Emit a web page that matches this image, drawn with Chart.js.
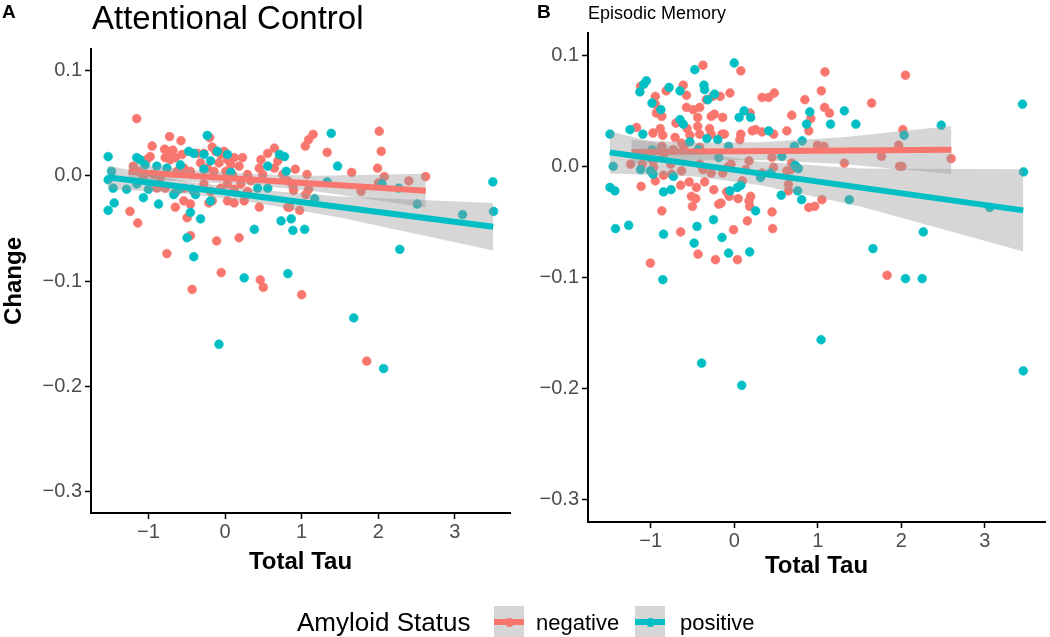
<!DOCTYPE html>
<html>
<head>
<meta charset="utf-8">
<script src="https://cdn.jsdelivr.net/npm/chart.js@4.4.1/dist/chart.umd.min.js"></script>
<style>
  html, body { margin:0; padding:0; background:#fff; }
  body { width:1050px; height:637px; position:relative; overflow:hidden; font-family:"Liberation Sans", Arial, Helvetica, sans-serif; }
  canvas { position:absolute; top:0; }
  .t { position:absolute; white-space:nowrap; line-height:1; color:#000; }
  .key { position:absolute; width:30px; height:32px; background:#D6D6D6; }
  .key .ln { position:absolute; left:0; width:30px; top:13px; height:6px; }
  .key .pt { position:absolute; left:10.5px; top:11.5px; width:9px; height:9px; border-radius:50%; }
</style>
</head>
<body>
<canvas id="cA" width="530" height="637" style="left:0px;width:530px;height:637px"></canvas>
<canvas id="cB" width="520" height="637" style="left:530px;width:520px;height:637px"></canvas>

<div class="t" style="left:2px;top:2px;font-size:19px;font-weight:bold;">A</div>
<div class="t" style="left:92px;top:1px;font-size:33px;">Attentional Control</div>
<div class="t" style="left:537px;top:2px;font-size:19px;font-weight:bold;">B</div>
<div class="t" style="left:588px;top:4px;font-size:18px;">Episodic Memory</div>

<div class="t" style="left:297px;top:609px;font-size:26px;">Amyloid Status</div>
<div class="key" style="left:494px;top:606px;"><div class="ln" style="background:#F8766D"></div><div class="pt" style="background:#F8766D"></div></div>
<div class="t" style="left:536px;top:612px;font-size:22px;">negative</div>
<div class="key" style="left:635px;top:606px;"><div class="ln" style="background:#00BFC4"></div><div class="pt" style="background:#00BFC4"></div></div>
<div class="t" style="left:680px;top:612px;font-size:22px;">positive</div>

<script>
// ---------- data ----------
const xTickValues = [-1, 0, 1, 2, 3];
const xTickLabels = ['\u22121', '0', '1', '2', '3'];
const yTickValues = [0.1, 0, -0.1, -0.2, -0.3];
const yTickLabels = ['0.1', '0.0', '\u22120.1', '\u22120.2', '\u22120.3'];
const groups = ['negative', 'positive'];

// Panel A: Attentional Control
const attnNegative = [
[-1.153,0.054],[-0.724,0.037],[-0.575,0.033],[-0.202,0.036],[-0.952,0.028],[-0.789,0.025],[-0.737,0.023],[-0.680,0.024],
[-0.978,0.018],[-1.022,0.015],[-0.781,0.017],[-0.715,0.015],[-0.649,0.017],[-0.561,0.020],[-0.364,0.021],[-0.276,0.021],
[-0.167,0.027],[-0.123,0.023],[-0.057,0.020],[-0.013,0.023],[0.031,0.015],[0.075,0.010],[0.118,0.017],[0.184,0.009],
[0.228,0.017],[-1.197,0.009],[-1.132,0.004],[-1.066,-0.001],[-0.934,0.001],[-0.846,-0.002],[-0.627,0.004],[-0.539,0.007],
[-0.452,0.004],[-0.320,0.012],[-0.232,0.007],[-0.145,0.004],[-0.079,0.012],[0.009,0.004],[0.096,0.001],[0.294,0.001],
[0.338,-0.005],[0.469,0.015],[0.447,0.007],[0.491,0.001],[0.557,0.021],[0.645,0.026],[0.689,0.014],[0.645,0.007],
[0.754,0.001],[0.820,-0.005],[-0.890,-0.012],[-0.781,-0.012],[-0.649,-0.016],[-0.539,-0.012],[-0.408,-0.015],[-0.276,-0.008],
[-0.189,-0.015],[-0.057,-0.012],[0.031,-0.008],[0.118,-0.013],[0.206,-0.008],[0.294,-0.015],[-0.539,-0.024],[-0.452,-0.027],
[-0.211,-0.026],[-0.167,-0.024],[0.031,-0.024],[0.118,-0.026],[0.250,-0.024],[-1.241,-0.034],[-0.649,-0.030],[-0.496,-0.040],
[0.447,-0.030],[0.820,-0.030],[-1.140,-0.045],[-0.452,-0.057],[-0.110,-0.062],[0.184,-0.059],[-0.759,-0.074],
[1.149,0.039],[1.091,0.034],[1.048,0.028],[1.333,0.022],[2.013,0.042],[2.039,0.023],[0.917,0.006],[1.070,0.001],
[1.653,0.003],[1.991,0.007],[2.079,-0.001],[2.399,-0.005],[2.618,-0.001],[2.004,-0.007],[1.776,-0.015],[0.886,-0.010],
[1.092,-0.013],[1.052,-0.018],[0.842,-0.030],[0.974,-0.033],[0.895,-0.014],
[-0.43,-0.108],[-0.05,-0.092],[0.46,-0.099],[0.50,-0.106],[1.00,-0.113],[1.85,-0.176]
];
const attnPositive = [
[-1.526,0.018],[-1.153,0.017],[-1.110,0.015],[-1.044,0.010],[-0.890,0.009],[-0.759,0.007],[-0.583,0.010],[-0.474,0.023],
[-0.408,0.021],[-0.276,0.020],[-0.232,0.038],[-0.101,0.023],[0.031,0.020],[-1.526,-0.004],[-1.482,0.004],[-1.461,-0.012],
[-1.285,-0.013],[-1.153,-0.008],[-1.066,-0.021],[-1.000,-0.013],[-0.868,-0.027],[-0.671,-0.018],[-0.605,-0.013],[-0.430,-0.013],
[-0.276,0.006],[-0.189,0.014],[0.075,0.003],[0.557,0.009],[0.711,0.020],[0.776,0.018],[0.798,0.004],[-1.526,-0.033],
[-1.447,-0.026],[-0.452,-0.035],[-0.320,-0.041],[-0.189,-0.024],[-0.386,-0.018],[0.382,-0.051],[0.732,-0.043],[0.864,-0.041],
[0.886,-0.052],[-0.496,-0.059],[-0.408,-0.077],[0.425,-0.012],[0.557,-0.012],
[1.386,0.040],[1.469,0.009],[1.333,-0.006],[2.048,-0.008],[2.267,-0.012],[2.509,-0.027],[3.101,-0.037],[3.496,-0.006],
[3.505,-0.034],[1.171,-0.022],[1.039,-0.051],[2.281,-0.070],
[0.25,-0.097],[0.82,-0.093],[1.68,-0.135],[-0.08,-0.160],[2.07,-0.183]
];
const attnNegFit   = [[-1.26,0.0036],[2.62,-0.0144]];
const attnPosFit   = [[-1.53,-0.0017],[3.50,-0.0485]];
const attnNegBandX = [-1.26,-0.5,0.3,1.2,2.62];
const attnNegUpper = [0.0116,0.0056,0.0014,-0.0002,0.0016];
const attnNegLower = [-0.0044,-0.0054,-0.0086,-0.0152,-0.0304];
const attnPosBandX = [-1.53,-0.5,0.3,1.5,3.50];
const attnPosUpper = [0.0093,-0.0053,-0.0127,-0.0199,-0.0260];
const attnPosLower = [-0.0127,-0.0173,-0.0247,-0.0399,-0.0710];

// Panel B: Episodic Memory
const memNegative = [
[-0.374,0.091],[0.079,0.086],[-1.121,0.072],[-0.944,0.063],[-0.815,0.068],[-0.610,0.073],[-0.571,0.064],[-0.334,0.060],
[-0.256,0.063],[-0.169,0.063],[-0.051,0.066],[0.334,0.062],[0.413,0.062],[0.480,0.066],[-0.944,0.056],[-0.932,0.048],
[-0.866,0.045],[-0.571,0.053],[-0.492,0.051],[-0.413,0.053],[-0.437,0.044],[-0.275,0.045],[-0.236,0.047],[-0.138,0.044],
[0.189,0.048],[0.689,0.046],[-1.169,0.035],[-0.972,0.030],[-0.885,0.034],[-0.854,0.028],[-0.697,0.039],[-0.563,0.034],
[-0.531,0.028],[-0.437,0.036],[-0.413,0.029],[-0.295,0.034],[-0.275,0.029],[-0.146,0.029],[-0.118,0.029],[0.067,0.024],
[0.079,0.029],[0.216,0.032],[0.256,0.033],[0.334,0.031],[0.472,0.029],[0.630,0.032],[-0.708,0.026],[-0.630,0.021],
[-0.866,0.018],[-0.728,0.015],[-0.602,0.018],[-0.413,0.017],[-0.846,0.011],[-0.972,0.005],[-0.964,-0.001],[-1.10,0.002],
[-1.24,0.002],[-0.759,0.002],[-0.630,-0.004],[-0.748,-0.007],[-0.413,0.002],[-0.374,-0.003],[-0.275,-0.006],[-0.138,-0.006],
[-0.079,-0.001],[-0.039,0.002],[0.177,0.005],[0.138,-0.003],[0.334,-0.006],[0.452,0.008],[0.472,-0.001],[-0.944,-0.013],
[-1.114,-0.018],[-0.846,-0.008],[-0.641,-0.017],[-0.539,-0.014],[-0.453,-0.019],[-0.354,-0.014],[-0.244,-0.021],[-0.090,-0.023],
[-0.059,-0.027],[0.098,-0.013],[0.197,-0.027],[-0.512,-0.027],[-0.460,-0.029],[-0.185,-0.034],[-0.157,-0.033],[0.047,-0.029],
[0.177,-0.031],[0.185,-0.036],[-0.866,-0.040],[0.453,-0.041],[0.649,-0.022],[0.630,-0.004],
[-0.500,-0.036],[0.157,-0.049],[0.460,-0.056],[-0.641,-0.059],[-0.008,-0.057],[-1.003,-0.087],[-0.433,-0.079],[-0.224,-0.084],
[0.039,-0.084],
[1.086,0.085],[2.050,0.082],[1.043,0.068],[0.846,0.060],[1.645,0.057],[1.082,0.053],[1.141,0.048],[0.917,0.043],
[0.893,0.032],[2.019,0.033],[0.996,0.019],[1.074,0.018],[1.968,0.019],[1.763,0.009],[1.318,0.003],[2.597,0.007],
[1.979,0.000],[2.007,0.000],[0.688,0.003],[0.680,-0.003],[0.649,-0.016],[1.050,-0.030],[0.893,-0.037],[0.964,-0.036],
[1.83,-0.098]
];
const memPositive = [
[-0.472,0.087],[0.000,0.093],[-1.051,0.077],[-1.082,0.074],[-1.129,0.067],[-0.779,0.071],[-0.649,0.068],[-0.362,0.073],
[-0.354,0.069],[-0.236,0.065],[-0.315,0.060],[-0.984,0.057],[-0.878,0.051],[-0.649,0.042],[-0.610,0.038],[0.059,0.044],
[0.118,0.050],[0.197,0.044],[-1.487,0.029],[-1.247,0.033],[-1.094,0.029],[-0.531,0.022],[-0.327,0.025],[-0.197,0.024],
[0.413,0.032],[-1.448,0.000],[-1.121,-0.003],[-1.003,-0.004],[-0.972,-0.007],[-0.984,0.015],[-0.964,0.014],[-0.728,-0.009],
[-0.433,0.015],[-0.185,0.008],[-0.067,0.018],[0.315,-0.010],[0.433,-0.006],[0.571,0.009],[0.728,0.001],[-1.487,-0.019],
[-1.428,-0.022],[-0.846,-0.023],[-0.756,-0.021],[-0.051,-0.022],[0.039,-0.019],[0.079,-0.017],[0.256,-0.040],[0.563,-0.026],
[-1.421,-0.056],[-1.263,-0.053],[-0.846,-0.061],[-0.445,-0.054],[-0.248,-0.048],[-0.480,-0.069],[-0.146,-0.064],[-0.067,-0.078],
[0.185,-0.077],[-0.854,-0.102],
[0.905,0.049],[1.318,0.050],[0.866,0.038],[1.153,0.038],[1.456,0.038],[2.479,0.037],[2.034,0.028],[3.451,0.056],
[3.463,-0.005],[0.814,0.023],[0.720,0.018],[0.736,0.000],[0.767,-0.002],[0.759,-0.022],[0.807,-0.030],[1.377,-0.030],
[3.059,-0.037],[2.263,-0.059],[1.661,-0.074],
[-0.39,-0.177],[0.09,-0.197],[1.04,-0.156],[3.46,-0.184],[2.05,-0.101],[2.25,-0.101]
];
const memNegFit   = [[-1.23,0.0130],[2.60,0.0150]];
const memPosFit   = [[-1.49,0.0126],[3.46,-0.0396]];
const memNegBandX = [-1.23,-0.4,0.3,1.3,2.60];
const memNegUpper = [0.0235,0.0214,0.0217,0.0262,0.0364];
const memNegLower = [0.0025,0.0054,0.0057,0.0022,-0.0068];
const memPosBandX = [-1.49,-0.5,0.3,1.5,3.46];
const memPosUpper = [0.0316,0.0132,0.0043,-0.0019,-0.0026];
const memPosLower = [-0.0064,-0.0088,-0.0167,-0.0359,-0.0766];

// ---------- styling ----------
const FONT = '"Liberation Sans", Arial, Helvetica, sans-serif';
const RED = '#F8766D', TEAL = '#00BFC4', BAND = 'rgba(153,153,153,0.4)';
const X_MIN = -1.75, X_MAX = 3.72, Y_MIN = -0.32, Y_MAX = 0.12;
Chart.defaults.font.family = FONT;

const pts = arr => arr.map(p => ({x: p[0], y: p[1]}));
const band = (xs, ys) => xs.map((x, i) => ({x: x, y: ys[i]}));

function pointSet(label, arr, color, order) {
  return { type:'scatter', label, data: pts(arr), backgroundColor: color, borderColor: color,
    borderWidth: 0.6, pointRadius: 4.4, pointHoverRadius: 4.4, order };
}
function bandSets(bx, up, lo, order) {
  return [
    { type:'line', data: band(bx, up), borderWidth:0, pointRadius:0, fill:false, order, tension:0 },
    { type:'line', data: band(bx, lo), borderWidth:0, pointRadius:0, fill:'-1', backgroundColor: BAND, order, tension:0 }
  ];
}
function fitSet(arr, color, order) {
  return { type:'line', data: pts(arr), borderColor: color, borderWidth: 6, pointRadius: 0, fill:false,
    borderCapStyle:'butt', order, tension:0 };
}

function makePanel(id, d, lay) {
  const datasets = [
    pointSet(groups[0], d.neg, RED, 7),
    pointSet(groups[1], d.pos, TEAL, 6),
    ...bandSets(d.negBX, d.negUp, d.negLo, 5),
    fitSet(d.negFit, RED, 4),
    ...bandSets(d.posBX, d.posUp, d.posLo, 3),
    fitSet(d.posFit, TEAL, 2)
  ];
  return new Chart(document.getElementById(id), {
    type: 'scatter',
    data: { datasets },
    options: {
      responsive: false, animation: false, devicePixelRatio: 1, events: [],
      layout: { padding: lay.padding },
      plugins: { legend: { display:false }, tooltip: { enabled:false }, title: { display:false } },
      scales: {
        x: {
          type:'linear', position:'bottom', min: X_MIN, max: X_MAX,
          afterBuildTicks: s => { s.ticks = xTickValues.map(v => ({value: v})); },
          afterFit: s => { s.height = lay.xHeight; },
          grid: { drawOnChartArea:false, drawTicks:true, tickLength:6, tickColor:'#000', tickWidth:1.5 },
          border: { display:true, color:'#000', width:2 },
          ticks: { color:'#4D4D4D', font:{ size:20 }, padding:1, autoSkip:false, maxRotation:0,
                   callback: v => xTickLabels[xTickValues.indexOf(v)] },
          title: { display:true, text:'Total Tau', color:'#000', font:{ size:24, weight:'bold' },
                   padding:{ top:0, bottom: lay.xTitlePad } }
        },
        y: {
          type:'linear', position:'left', min: Y_MIN, max: Y_MAX,
          afterBuildTicks: s => { s.ticks = yTickValues.map(v => ({value: v})); },
          afterFit: s => { s.width = lay.yWidth; },
          grid: { drawOnChartArea:false, drawTicks:true, tickLength:6, tickColor:'#000', tickWidth:1.5 },
          border: { display:true, color:'#000', width:2 },
          ticks: { color:'#4D4D4D', font:{ size:20 }, padding:3, autoSkip:false,
                   callback: v => yTickLabels[yTickValues.indexOf(v)] },
          title: { display: !!lay.yTitle, text: lay.yTitle || '', color:'#000', font:{ size:24, weight:'bold' },
                   padding:{ top:0, bottom:0 } }
        }
      }
    }
  });
}

makePanel('cA', {
  neg: attnNegative, pos: attnPositive, negFit: attnNegFit, posFit: attnPosFit,
  negBX: attnNegBandX, negUp: attnNegUpper, negLo: attnNegLower,
  posBX: attnPosBandX, posUp: attnPosUpper, posLo: attnPosLower
}, { padding:{ left:0, top:49, right:20, bottom:0 }, yWidth:91, xHeight:124, xTitlePad:60, yTitle:'Change' });

makePanel('cB', {
  neg: memNegative, pos: memPositive, negFit: memNegFit, posFit: memPosFit,
  negBX: memNegBandX, negUp: memNegUpper, negLo: memNegLower,
  posBX: memPosBandX, posUp: memPosUpper, posLo: memPosLower
}, { padding:{ left:0, top:33, right:2, bottom:0 }, yWidth:58, xHeight:115, xTitlePad:56, yTitle:'' });
</script>
</body>
</html>
